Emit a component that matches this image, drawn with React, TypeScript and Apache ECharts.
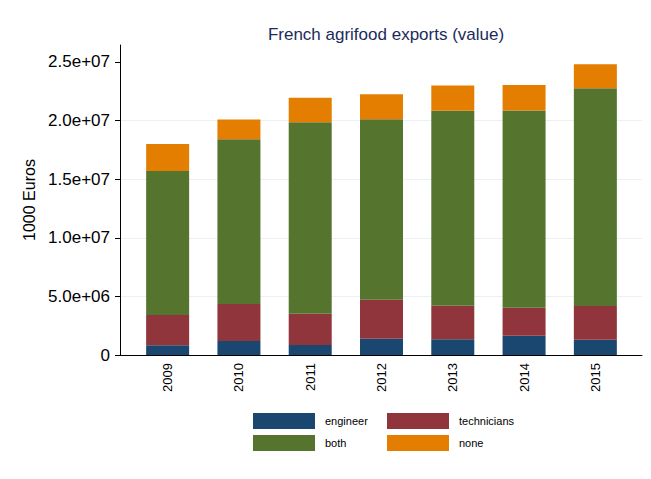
import React, { useEffect, useRef } from "react";
import * as echarts from "echarts";

const years = ["2009", "2010", "2011", "2012", "2013", "2014", "2015"];
const engineer = [0.83e6, 1.19e6, 0.85e6, 1.39e6, 1.34e6, 1.65e6, 1.31e6];
const technicians = [2.58e6, 3.16e6, 2.67e6, 3.33e6, 2.86e6, 2.38e6, 2.87e6];
const both = [12.3e6, 14.06e6, 16.34e6, 15.4e6, 16.63e6, 16.83e6, 18.58e6];
const none = [2.29e6, 1.68e6, 2.08e6, 2.13e6, 2.16e6, 2.18e6, 2.05e6];
const yTicks = [0, 5e6, 10e6, 15e6, 20e6, 25e6];
const yMax = 26.45e6;

const seriesNames = ["engineer", "technicians", "both", "none"];
const seriesData = [engineer, technicians, both, none];
const colors = ["#1a476f", "#90353b", "#55752f", "#e37e00"];

function fmt(v: number): string {
  if (v === 0) return "0";
  const s = v.toExponential(1);
  const [m, e] = s.split("e");
  const sign = e[0] === "-" ? "-" : "+";
  const digits = e.replace(/[+-]/, "").padStart(2, "0");
  return `${m}e${sign}${digits}`;
}

const FONT = "Liberation Sans, Arial, sans-serif";

export default function App() {
  const ref = useRef<HTMLDivElement>(null);
  useEffect(() => {
    if (!ref.current) return;
    const chart = echarts.init(ref.current, undefined, { renderer: "svg" });
    const legendPos = [
      { left: 248, top: 408 },
      { left: 382, top: 408 },
      { left: 248, top: 430 },
      { left: 382, top: 430 },
    ];
    chart.setOption({
      animation: false,
      backgroundColor: "#ffffff",
      title: {
        text: "French agrifood exports (value)",
        left: 381,
        textAlign: "center",
        top: 21,
        textStyle: {
          fontFamily: FONT,
          fontSize: 17,
          fontWeight: "normal",
          color: "#1c2b5a",
        },
      },
      legend: seriesNames.map((n, i) => ({
        data: [n],
        left: legendPos[i].left,
        top: legendPos[i].top,
        itemWidth: 62,
        itemHeight: 16,
        icon: "rect",
        textStyle: { fontFamily: FONT, fontSize: 11, color: "#000", padding: [0, 0, 0, 5] },
        selectedMode: false,
      })),
      grid: [
        { left: 120, right: 9, top: 45, bottom: 124 },
        { left: 132, right: 20, top: 45, bottom: 124 },
      ],
      xAxis: [
        {
          type: "value",
          gridIndex: 0,
          min: 0,
          max: 1,
          axisLine: { show: true, lineStyle: { color: "#000", width: 1 } },
          axisTick: { show: false },
          axisLabel: { show: false },
          splitLine: { show: false },
        },
        {
          type: "category",
          gridIndex: 1,
          data: years,
          axisLine: { show: false },
          axisTick: { show: false },
          splitLine: { show: false },
          axisLabel: {
            rotate: 90,
            fontFamily: FONT,
            fontSize: 13,
            color: "#000",
            margin: 8,
          },
        },
      ],
      yAxis: [
        {
          type: "value",
          gridIndex: 0,
          min: 0,
          max: yMax,
          name: "1000 Euros",
          nameLocation: "middle",
          nameGap: 80,
          nameRotate: 90,
          nameTextStyle: { fontFamily: FONT, fontSize: 16, color: "#000" },
          axisLine: { show: true, lineStyle: { color: "#000", width: 1 } },
          axisTick: {
            show: true,
            customValues: yTicks,
            length: 5,
            lineStyle: { color: "#000" },
          },
          axisLabel: {
            customValues: yTicks,
            formatter: (v: number) => fmt(v),
            fontFamily: FONT,
            fontSize: 17,
            color: "#000",
            margin: 10,
          },
          splitLine: {
            show: true,
            showMinLine: false,
            showMaxLine: false,
            lineStyle: { color: "#eaf0f3", width: 1 },
          },
        },
        {
          type: "value",
          gridIndex: 1,
          min: 0,
          max: yMax,
          show: false,
          splitLine: { show: false },
        },
      ],
      series: seriesNames.map((n, i) => ({
        name: n,
        type: "bar",
        stack: "total",
        xAxisIndex: 1,
        yAxisIndex: 1,
        barWidth: 43,
        itemStyle: { color: colors[i] },
        data: seriesData[i],
      })),
    });
    return () => chart.dispose();
  }, []);
  return <div ref={ref} style={{ width: 651, height: 479, position: "absolute", left: 0, top: 0 }} />;
}
